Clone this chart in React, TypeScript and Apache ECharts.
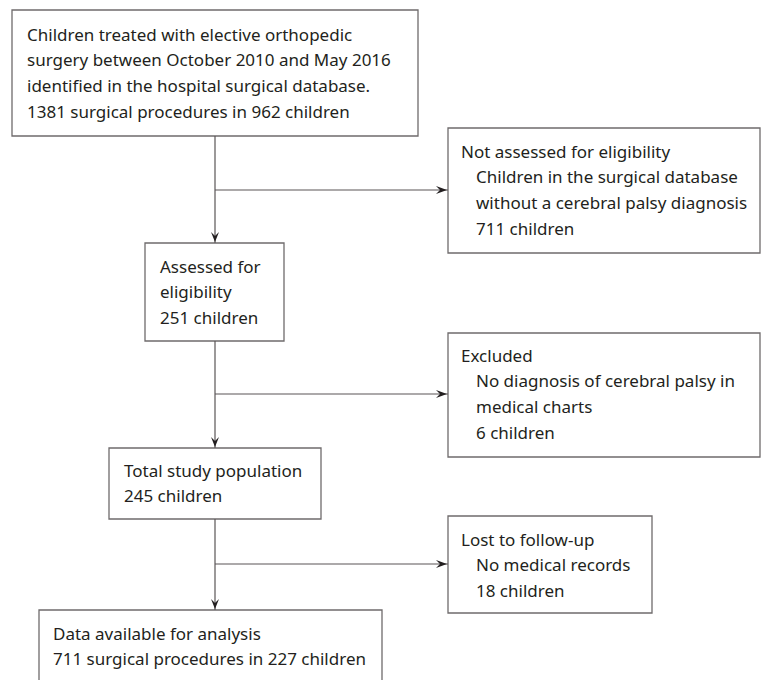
import React, { useEffect, useRef } from "react";
import * as echarts from "echarts";

// Box texts (main flow and exclusion boxes)
const boxTitles = [
  "Children treated with elective orthopedic",
  "Not assessed for eligibility",
  "Assessed for",
  "Excluded",
  "Total study population",
  "Lost to follow-up",
  "Data available for analysis",
];
const boxLines: string[][] = [
  ["Children treated with elective orthopedic", "surgery between October 2010 and May 2016", "identified in the hospital surgical database.", "1381 surgical procedures in 962 children"],
  ["Not assessed for eligibility", "   Children in the surgical database", "   without a cerebral palsy diagnosis", "   711 children"],
  ["Assessed for", "eligibility", "251 children"],
  ["Excluded", "   No diagnosis of cerebral palsy in", "   medical charts", "   6 children"],
  ["Total study population", "245 children"],
  ["Lost to follow-up", "   No medical records", "   18 children"],
  ["Data available for analysis", "711 surgical procedures in 227 children"],
];
const childCounts = [962, 711, 251, 6, 245, 18, 227];

// layout: [x, y, w, h, textX, firstLineY]
const boxes = [
  [12, 10, 406, 126, 27, 34],
  [448, 128, 312, 125, 461, 151],
  [145, 243, 139, 98, 160, 266],
  [448, 333, 312, 124, 461, 355],
  [109, 448, 212, 71, 124, 470],
  [448, 516, 204, 97, 461, 539],
  [39, 610, 343, 90, 53, 633],
];

const LINE_H = 25.7;
const STROKE = "#6f6b6c";
const TEXT = "#231f20";
const FONT = "'Noto Sans', sans-serif";
const FS = 17;

export default function App() {
  const ref = useRef<HTMLDivElement>(null);
  useEffect(() => {
    if (!ref.current) return;
    const chart = echarts.init(ref.current, null, { renderer: "svg" });
    const elements: any[] = [];
    boxes.forEach((b, i) => {
      const [x, y, w, h, tx, ty] = b;
      elements.push({
        type: "rect",
        shape: { x, y, width: w, height: h },
        style: { fill: "#fff", stroke: STROKE, lineWidth: 1.3 },
      });
      boxLines[i].forEach((line, j) => {
        const indent = line.startsWith("   ");
        elements.push({
          type: "text",
          x: tx + (indent ? 15 : 0),
          y: ty + j * LINE_H,
          style: {
            text: line.trim(),
            fill: TEXT,
            font: `${FS}px ${FONT}`,
            textVerticalAlign: "middle",
            textAlign: "left",
          },
        });
      });
    });
    const vx = 215;
    const lines = [
      [vx, 136, vx, 243],
      [vx, 341, vx, 448],
      [vx, 519, vx, 610],
      [vx, 190, 448, 190],
      [vx, 394, 448, 394],
      [vx, 564, 448, 564],
    ];
    lines.forEach(([x1, y1, x2, y2]) => {
      elements.push({
        type: "line",
        shape: { x1, y1, x2, y2 },
        style: { stroke: "#5a5556", lineWidth: 1.2 },
      });
    });
    const downTips = [243, 448, 610];
    downTips.forEach((ty) => {
      elements.push({
        type: "polygon",
        shape: { points: [[vx - 4, ty - 11], [vx, ty - 7], [vx + 4, ty - 11], [vx, ty - 1]] },
        style: { fill: "#231f20" },
      });
    });
    const rightArrows = [190, 394, 564];
    rightArrows.forEach((ay) => {
      elements.push({
        type: "polygon",
        shape: { points: [[447, ay], [436, ay - 4], [440, ay], [436, ay + 4]] },
        style: { fill: "#231f20" },
      });
    });
    chart.setOption({
      animation: false,
      backgroundColor: "#fff",
      title: { show: false, text: boxTitles.join(" ") + childCounts.join(",") },
      graphic: { elements },
    });
    return () => chart.dispose();
  }, []);
  return (
    <div
      ref={ref}
      style={{ position: "absolute", left: 0, top: 0, width: 761, height: 680 }}
    />
  );
}
